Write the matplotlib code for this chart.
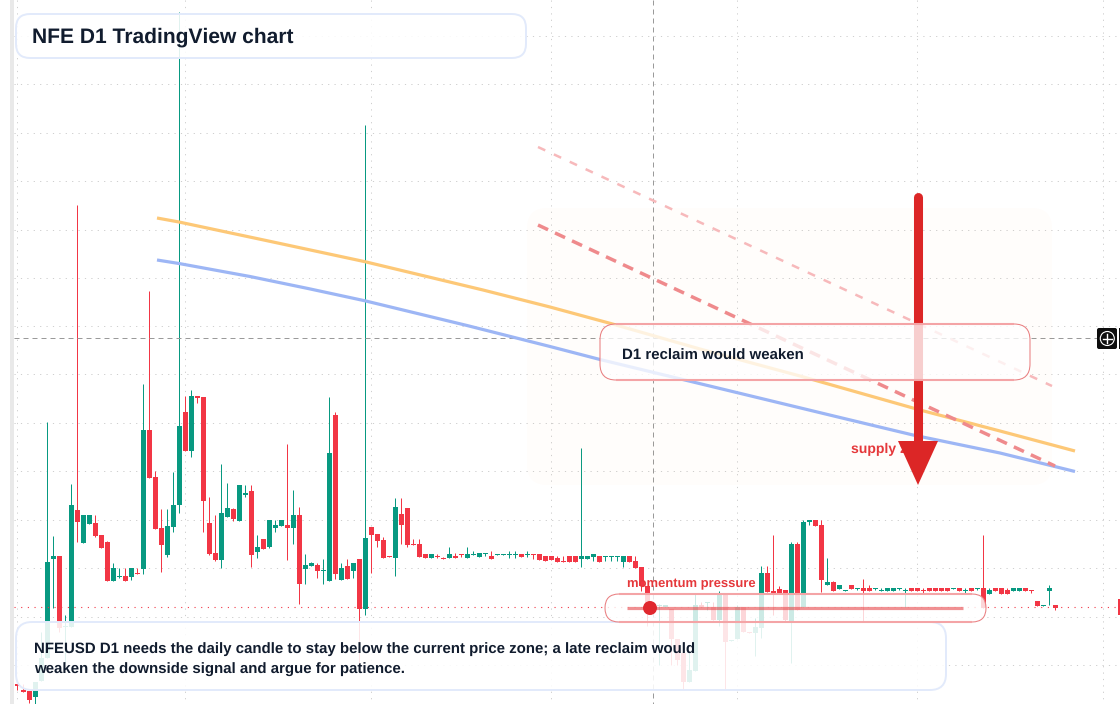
import matplotlib
matplotlib.use('Agg')
import matplotlib.pyplot as plt
from matplotlib.patches import FancyBboxPatch, Polygon, Circle, Rectangle

plt.rcParams['font.family'] = ['Liberation Sans', 'DejaVu Sans']
plt.rcParams['text.hinting'] = 'no_hinting'
plt.rcParams['text.hinting_factor'] = 1

# daily candles, price in chart levels (axis runs top-down)
opens = [683.5, 689.5, 691, 696.7, 681, 658, 559, 556, 627, 627,
         510, 543, 524, 523, 535, 542, 581, 577, 576, 577,
         573, 569, 430, 477, 528, 555, 527, 505, 412, 451,
         396, 397, 523, 553, 560, 517, 509, 521, 495, 491,
         552, 539, 547, 528, 526, 525, 528, 515, 569, 566,
         565, 571, 581, 415, 580, 566, 571, 559, 609, 527,
         534, 540, 556, 558, 514, 508, 544, 544, 554, 558,
         556, 558, 558, 556, 554, 558, 555, 557, 554, 556,
         555, 555, 555, 555, 554, 555, 554, 554, 556, 556,
         558, 561, 556, 556, 559, 559, 557, 556, 557, 557,
         557, 562, 556, 561, 567, 586, 606, 606, 607, 609,
         639, 653, 682, 671, 605, 603, 607, 620, 593, 641,
         639, 607, 632, 633, 628, 573, 591, 589, 590, 622,
         544, 607, 522, 520, 525, 585, 582, 589, 591, 585,
         589, 588, 588, 589, 591, 591, 591, 589, 591, 588,
         588, 590, 588, 588, 588, 588, 589, 588, 591, 588,
         589, 588, 594, 588, 588, 590, 591, 591, 588, 590,
         601, 606, 591, 605]
closes = [685.5, 691.5, 700, 681.7, 658, 562, 556, 628, 626, 505,
          522, 515, 515, 536, 548, 581, 568, 576, 581, 568,
          574, 430, 478, 529, 545, 526, 505, 426, 451, 396,
          397.5, 501, 554, 560, 513, 508, 519, 485, 493, 555,
          547, 549, 520, 525, 520, 528, 515, 584, 565, 563,
          571, 570, 453, 574, 568, 579, 563, 609, 538, 535,
          541, 558, 557, 507, 525, 545, 545, 557, 558, 554,
          557, 559, 554, 558, 555, 554, 554, 553, 553, 559,
          554, 554, 554, 554, 557, 554, 555, 560, 561, 560,
          562, 562, 562, 562, 556, 556, 554, 562, 556, 556,
          556, 556, 562, 568, 586, 606, 607, 605, 605, 639,
          660, 682, 670, 605, 607, 602, 620, 593, 642, 640,
          607, 632, 633, 627, 573, 592, 595, 593, 620, 544,
          610, 522, 520, 526, 580, 582, 591, 585, 590, 589,
          588, 591, 591, 588, 590, 588, 588, 588, 590, 591,
          591, 591, 591, 591, 591, 591, 588, 591, 590, 591,
          588, 608, 590, 591, 594, 594, 588, 588, 591, 591,
          606, 605, 588, 608]
highs = [683.5, 684, 691, 681.7, 632, 422, 536, 556, 615, 484,
         205, 515, 515, 515, 535, 541, 563, 568, 568, 568,
         568, 384, 291, 471, 509, 509, 472, 12, 396, 390,
         396, 397, 497, 515, 464, 483, 508, 485, 485, 485,
         535, 539, 520, 520, 520, 444, 490, 507, 554, 562,
         563, 559, 397, 412, 563, 559, 563, 559, 125, 527,
         534, 537, 556, 498, 498, 508, 539, 539, 554, 554,
         554, 557, 547, 553, 554, 547, 551, 553, 553, 551,
         554, 554, 551, 551, 554, 551, 554, 554, 556, 556,
         556, 556, 556, 556, 448, 556, 554, 556, 556, 556,
         556, 556, 556, 556, 567, 586, 606, 604, 605, 609,
         639, 653, 653, 593, 602, 602, 602, 591, 593, 640,
         605, 607, 632, 618, 566, 566, 535, 586, 590, 542,
         542, 520, 520, 520, 520, 558, 581, 585, 590, 585,
         588, 579, 585, 588, 588, 588, 588, 588, 588, 588,
         588, 588, 588, 588, 588, 588, 588, 588, 588, 588,
         588, 535, 588, 588, 588, 588, 588, 588, 588, 590,
         601, 605, 585, 605]
lows = [690, 691.5, 702.7, 704, 681, 658, 608, 632, 663, 627,
        542, 543, 524, 537, 548, 581, 581, 578, 581, 580,
        574, 574, 478, 529, 572, 557, 532, 513, 451, 457,
        403, 532, 555, 561, 568, 517, 521, 521, 497, 567,
        558, 549, 548, 532, 526, 560, 544, 604, 584, 566,
        578, 584, 581, 579, 580, 579, 578, 663, 615, 573,
        547, 558, 557, 576, 544, 547, 545, 557, 558, 558,
        558, 559, 558, 558, 557, 558, 555, 557, 556, 559,
        555, 555, 558, 558, 557, 557, 559, 560, 561, 560,
        562, 562, 562, 562, 567, 559, 561, 562, 561, 561,
        561, 567, 562, 568, 591, 626, 607, 665, 607, 665,
        665, 689, 682, 671, 607, 610, 620, 626, 689, 641,
        639, 632, 633, 656, 638, 592, 615, 593, 622, 663,
        610, 607, 525, 526, 592, 585, 591, 589, 591, 589,
        590, 622, 591, 590, 591, 591, 591, 590, 607, 591,
        591, 593, 591, 591, 591, 591, 589, 591, 593, 591,
        590, 608, 594, 591, 594, 594, 591, 591, 591, 593,
        606, 606, 605, 610]

# moving averages and trend guides, in screen position
ma_slow_x = [157, 179, 267, 365, 483, 550, 610, 700, 800, 920, 1000, 1075]
ma_slow_y = [218, 222, 240.7, 261.7, 290, 307, 323.3, 349, 376, 410, 431, 451]
ma_fast_x = [157, 179, 250, 308, 365, 467, 550, 600, 720, 840, 913, 1000, 1075]
ma_fast_y = [260, 263.5, 276.5, 288.5, 300.8, 325.5, 346.5, 359.5, 388.5, 417.5, 435, 453, 471.5]
guide_x = [538, 1055]
guide_y = [225, 466]
guide_upper_x = [538, 1052]
guide_upper_y = [147, 386]

price_level = 607
cross_x = 653
cross_y = 338
grid_xs = [17, 185, 371, 551, 737, 917, 1103]
grid_ys = [36, 84, 132.5, 181, 229.5, 278, 326, 374, 423, 471, 520, 568, 617, 665]

GREEN = '#089981'
RED = '#f23645'
INK = '#111c2e'
ALERT = '#e5383b'
PANEL_EDGE = '#e2eafb'

fig = plt.figure(figsize=(11.2, 7.04), dpi=100)
ax = fig.add_axes([0, 0, 1, 1])
ax.set_xlim(0, 1120)
ax.set_ylim(704, 0)
ax.axis('off')


def box(x0, y0, x1, y1, r, edge, lw, alpha=0.88, z=6):
    # white fill is translucent, the edge stays solid
    style = 'round,pad=0,rounding_size=%s' % r
    ax.add_patch(FancyBboxPatch((x0, y0), x1 - x0, y1 - y0, boxstyle=style, fc='white', ec='none', alpha=alpha, zorder=z))
    ax.add_patch(FancyBboxPatch((x0, y0), x1 - x0, y1 - y0, boxstyle=style, fc='none', ec=edge, lw=lw, zorder=z))


def red_box(x0, y0, x1, y1, r, alpha, z=6):
    # thin outline with a wider pale band along the long edges
    box(x0, y0, x1, y1, r, '#e97f81', 0.75, alpha=alpha, z=z)
    ax.plot([x0 + r, x1 - r], [y0, y0], color='#f4a4a6', lw=1.5, solid_capstyle='butt', zorder=z + 0.05)
    ax.plot([x0 + r, x1 - r], [y1, y1], color='#f4a4a6', lw=1.5, solid_capstyle='butt', zorder=z + 0.05)


# left price strip
ax.add_patch(Rectangle((10, 0), 4, 704, fc='#e9e9e9', ec='none', zorder=0))

# dotted grid
for gx in grid_xs:
    ax.plot([gx, gx], [0, 704], color='#cfcfcf', lw=0.72, ls=(0, (1.2, 5.2)), zorder=1)
for gy in grid_ys:
    ax.plot([14, 1120], [gy, gy], color='#cfcfcf', lw=0.72, ls=(0, (1.2, 5.2)), zorder=1)

# candles
for i in range(len(opens)):
    x = 17.3 + 6 * i
    up = closes[i] < opens[i]
    col = GREEN if up else RED
    top = min(opens[i], closes[i])
    bot = max(opens[i], closes[i])
    ax.plot([x, x], [highs[i], lows[i]], color=col, lw=0.72, solid_capstyle='butt', zorder=2)
    ax.add_patch(Rectangle((x - 2.5, top), 5, bot - top, fc=col, ec='none', zorder=2))

# last price and crosshair
ax.plot([14, 1118], [price_level, price_level], color=RED, lw=0.8, ls=(0, (1, 5)), zorder=2)
ax.add_patch(Rectangle((1118, 599), 2, 16, fc=RED, ec='none', zorder=2))
ax.plot([cross_x, cross_x], [0, 704], color='#9a9a9a', lw=0.72, ls=(0, (5, 4)), zorder=2.5)
ax.plot([14, 1097], [cross_y, cross_y], color='#9a9a9a', lw=0.72, ls=(0, (5, 4)), zorder=2.5)

# crosshair button on the price scale
ax.add_patch(FancyBboxPatch((1097, 328), 20, 21, boxstyle='round,pad=0,rounding_size=2', fc='#0d0d0d', ec='none', zorder=3))
ax.add_patch(Rectangle((1118.5, 328), 1.5, 21, fc='#0d0d0d', ec='none', zorder=3))
ax.add_patch(Circle((1107.3, 338.5), 7, fc='none', ec='white', lw=0.8, zorder=4))
ax.plot([1103, 1111.5], [338.5, 338.5], color='white', lw=1, zorder=4)
ax.plot([1107.3, 1107.3], [334.2, 342.8], color='white', lw=1, zorder=4)

# supply zone shading
ax.add_patch(FancyBboxPatch((527, 208), 525, 277, boxstyle='round,pad=0,rounding_size=20',
                            fc='#ffa050', ec='none', alpha=0.018, zorder=3))

# moving averages
ax.plot(ma_slow_x, ma_slow_y, color='#fdc877', lw=2.3, solid_capstyle='butt', zorder=4)
ax.plot(ma_fast_x, ma_fast_y, color='#9db6f5', lw=2.3, solid_capstyle='butt', zorder=4)

# downward guides
ax.plot(guide_upper_x, guide_upper_y, color='#f7b9bb', lw=1.8, ls=(0, (3.2, 3.8)), zorder=4.2)
ax.plot(guide_x, guide_y, color='#ef8a8c', lw=2.5, ls=(0, (3.2, 2.2)), zorder=4.2)

ax.text(851, 449.5, 'supply zone', color=ALERT, fontsize=10.3, fontweight='bold', va='center', ha='left', zorder=4.5)

# down arrow
ax.plot([917.6, 917.6], [197, 445], color='#dc2626', lw=6.5, solid_capstyle='round', zorder=5)
ax.add_patch(Polygon([[898, 441], [938, 441], [918, 485]], closed=True, fc='#dc2626', ec='none', zorder=5))

# callouts
red_box(600, 324, 1030, 380, 16, 0.78)
ax.text(622, 355.5, 'D1 reclaim would weaken', color=INK, fontsize=10.8, fontweight='bold', va='center', zorder=7)

box(16, 622, 946, 690, 16, PANEL_EDGE, 1.4, alpha=0.88, z=6.5)
ax.text(34, 649.5, 'NFEUSD D1 needs the daily candle to stay below the current price zone; a late reclaim would',
        color=INK, fontsize=10.8, fontweight='bold', va='center', zorder=7)
ax.text(34, 669.5, 'weaken the downside signal and argue for patience.',
        color=INK, fontsize=10.8, fontweight='bold', va='center', zorder=7)

red_box(605, 594, 986, 622, 14, 0.8, z=6.6)
ax.plot([627, 963], [607.5, 607.5], color='#e5383b', alpha=0.55, lw=2.3, solid_capstyle='butt', zorder=6.8)
ax.add_patch(Circle((650, 608), 7, fc='#e0282e', ec='none', zorder=6.9))
ax.text(627, 584, 'momentum pressure', color=ALERT, fontsize=9.4, fontweight='bold', va='center', zorder=7)

box(16, 14, 526, 58, 14, PANEL_EDGE, 1.4, alpha=0.88, z=6.5)
ax.text(32, 37.5, 'NFE D1 TradingView chart', color=INK, fontsize=15.09, fontweight='bold', va='center', zorder=7)

plt.savefig('out.png', dpi=100)
